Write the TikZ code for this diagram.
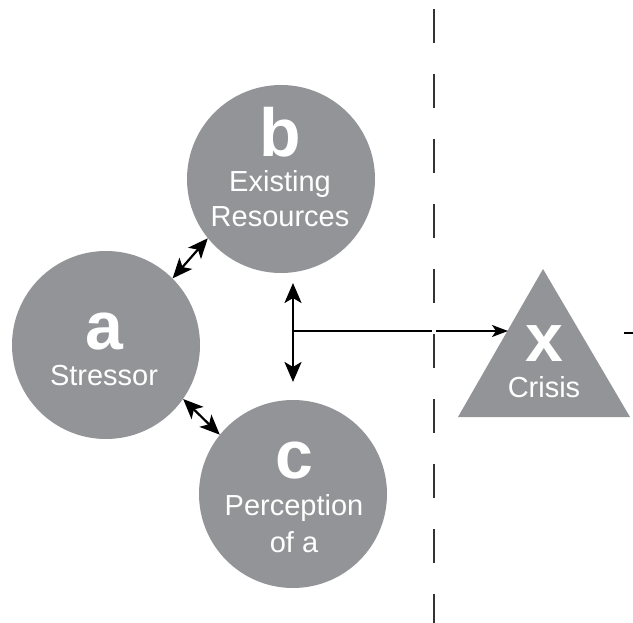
\documentclass[tikz,border=0pt]{standalone}
\usepackage{fontspec}
\setmainfont{Liberation Sans}
\usetikzlibrary{arrows.meta}
\definecolor{discgray}{RGB}{146,148,151}
\tikzset{
  disc/.style={circle, fill=discgray, draw=none, minimum size=188pt, inner sep=0pt},
  bigletter/.style={text=white, font=\fontsize{68}{68}\selectfont\bfseries, anchor=base, inner sep=0pt},
  caption/.style={text=white, font=\fontsize{29}{29}\selectfont, anchor=base, inner sep=0pt},
  bighead/.tip={Stealth[length=20pt,width=17pt,inset=5pt]},
  twoway/.style={black, line width=2.2pt, bighead-bighead},
  thinline/.style={black, line width=1.3pt},
  divider/.style={black!80, line width=2pt, dash pattern=on 34pt off 31pt}
}
\begin{document}
\begin{tikzpicture}[x=1pt, y=-1pt]
  \useasboundingbox (0,0) rectangle (633,623);

  % dashed divider
  \coordinate (divtop) at (433.5,9);
  \coordinate (divbot) at (433.5,623);
  \draw[divider] (divtop) -- (divbot);

  % three discs
  \node[disc] (a) at (106,345) {};
  \node[disc] (b) at (281,179) {};
  \node[disc] (c) at (293,494) {};

  \node[bigletter] (bl) at (280,157) {b};
  \node[caption] (bt1) at (280,192) {Existing};
  \node[caption] (bt2) at (280,227) {Resources};

  \node[bigletter] (al) at (104,350) {a};
  \node[caption] (at1) at (104,385) {Stressor};

  \node[bigletter] (cl) at (294,478) {c};
  \node[caption] (ct1) at (294,515) {Perception};
  \node[caption] (ct2) at (294,552) {of a};

  % crisis triangle
  \coordinate (tapex) at (543,269);
  \coordinate (tleft) at (458,417);
  \coordinate (tright) at (630,417);
  \fill[discgray] (tapex) -- (tleft) -- (tright) -- cycle;
  \node[bigletter] (xl) at (544,362) {x};
  \node[caption] (xt1) at (544,397) {Crisis};

  % two-way links
  \draw[twoway] (a.45) -- (b.219);
  \draw[twoway] (a.-35) -- (c.141);

  \coordinate (vtop) at (293,283);
  \coordinate (vbot) at (293,382);
  \draw[twoway, line width=2.6pt] (vtop) -- (vbot);

  % arrow to the crisis
  \coordinate (hstart) at (293,331);
  \coordinate (hbreak1) at (432,331);
  \coordinate (hbreak2) at (436,331);
  \coordinate (hend) at (508,331);
  \draw[thinline] (hstart) -- (hbreak1);
  \draw[thinline, -{Stealth[length=16pt,width=12pt,inset=4pt]}] (hbreak2) -- (hend);

  \coordinate (rs) at (624,333);
  \coordinate (re) at (633,333);
  \draw[thinline] (rs) -- (re);
\end{tikzpicture}
\end{document}
